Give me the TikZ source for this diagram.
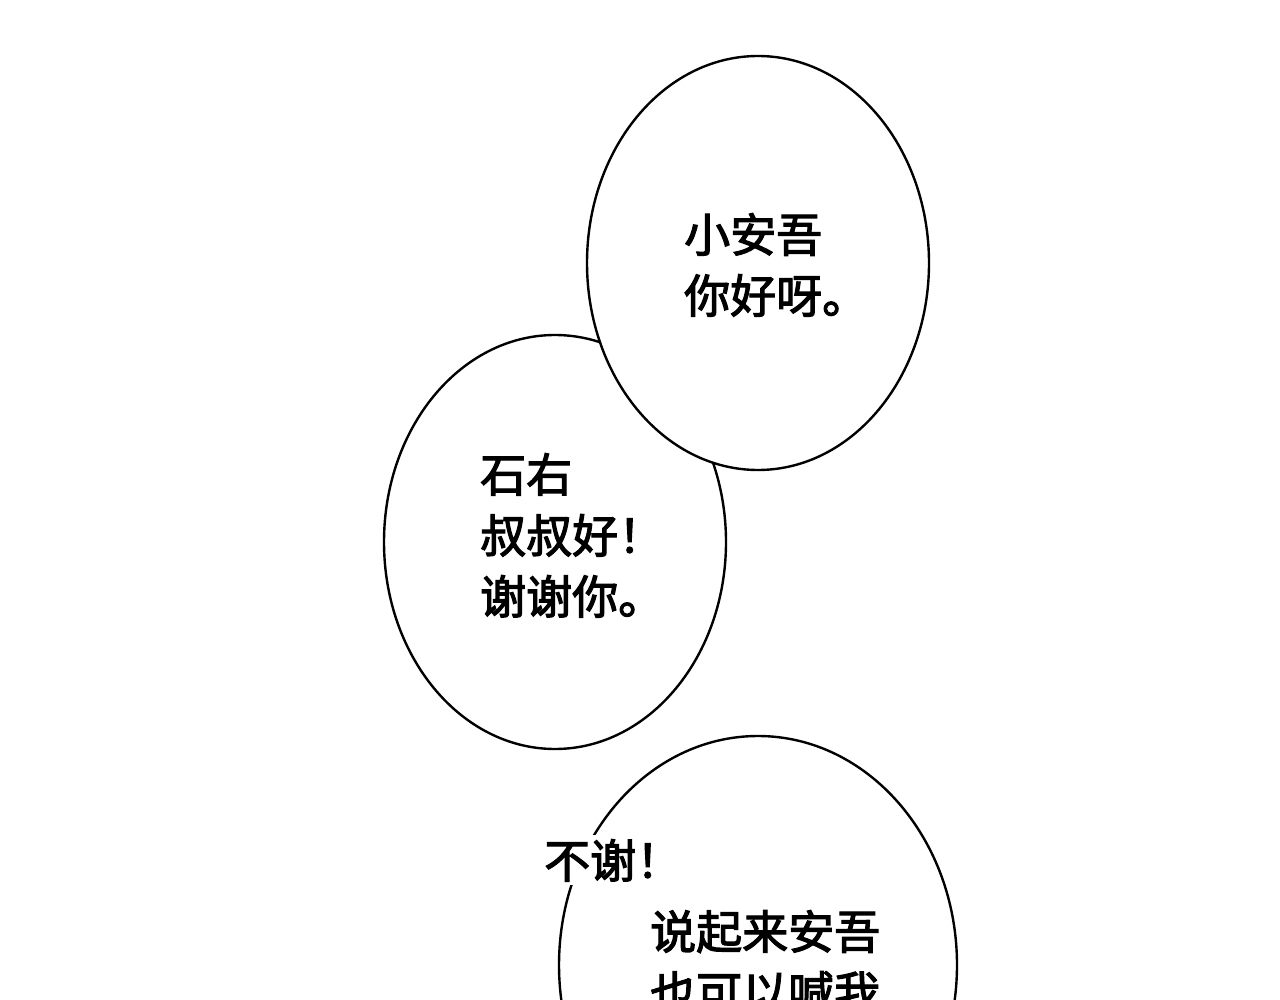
\documentclass[tikz,border=0pt]{standalone}
\usepackage{fontspec}
\newfontfamily\cjk[FakeBold=2.5]{Noto Sans CJK SC}
\begin{document}
\begin{tikzpicture}[x=1pt,y=-1pt,
  bub/.style={draw=black,line width=2.4pt,fill=white},
  txt/.style={font=\cjk\fontsize{46}{61}\selectfont,anchor=north west,align=left,inner sep=0pt}]
\useasboundingbox (0,0) rectangle (1280,1000);
\clip (0,0) rectangle (1280,1000);
\fill[white] (0,0) rectangle (1280,1000);
\draw[bub] (555,542) ellipse [x radius=171,y radius=207];
\draw[bub] (758,263) ellipse [x radius=171,y radius=207];
\draw[bub] (758,965) ellipse [x radius=199,y radius=229];
\node[txt] (t1) at (684,213) {小安吾\\你好呀。};
\node[txt] (t2) at (480,453) {石右\\叔叔好！\\谢谢你。};
\node[txt,fill=white,inner sep=4pt] (t3) at (540,835) {不谢！};
\node[txt] (t4) at (650,910) {说起来安吾\\也可以喊我};
\end{tikzpicture}
\end{document}
